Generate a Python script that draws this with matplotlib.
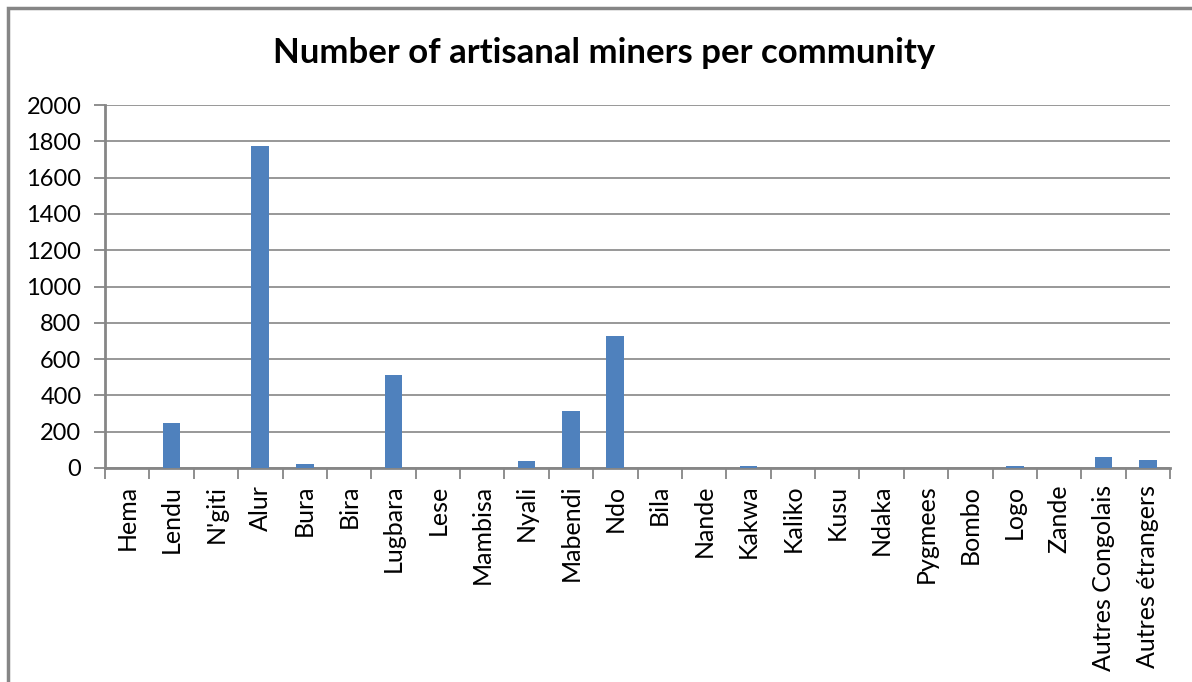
import matplotlib.pyplot as plt
import matplotlib.patches as patches
import numpy as np

communities = ["Hema", "Lendu", "N'giti", "Alur", "Bura", "Bira", "Lugbara",
               "Lese", "Mambisa", "Nyali", "Mabendi", "Ndo", "Bila", "Nande",
               "Kakwa", "Kaliko", "Kusu", "Ndaka", "Pygmees", "Bombo", "Logo",
               "Zande", "Autres Congolais", "Autres étrangers"]
miners = [0, 250, 0, 1775, 23, 0, 513, 0, 0, 39, 315, 728, 0, 0, 10, 0, 0, 0,
          0, 0, 10, 0, 61, 43]
y_ticks = [0, 200, 400, 600, 800, 1000, 1200, 1400, 1600, 1800, 2000]

plt.rcParams['font.family'] = ['Lato', 'DejaVu Sans']
grey = '#868686'

W, H = 1192, 682
fig = plt.figure(figsize=(W / 100, H / 100), dpi=100)

# outer chart frame (runs off the right and bottom edges)
fig.patches.append(patches.Rectangle((8 / W, -0.1), 1.2, 1 - 8 / H + 0.1,
                                     transform=fig.transFigure, fill=False,
                                     edgecolor=grey, linewidth=2.5))

ax = fig.add_axes([105 / W, 1 - 468 / H, (1170 - 105) / W, (468 - 105) / H])
x = np.arange(len(communities))
ax.bar(x, miners, width=0.4, color='#4f81bd', zorder=3)

ax.set_xlim(-0.5, len(communities) - 0.5)
ax.set_ylim(0, 2000)
ax.set_yticks(y_ticks)
ax.set_yticklabels([str(v) for v in y_ticks], fontsize=17)
ax.yaxis.grid(True, color=grey, linewidth=1.2, zorder=0)

# category labels between boundary ticks
ax.set_xticks(x)
ax.set_xticklabels(communities, rotation=90, fontsize=18)
ax.tick_params(axis='x', length=0, pad=12)
ax.set_xticks(np.arange(len(communities) + 1) - 0.5, minor=True)
ax.tick_params(axis='x', which='minor', length=8, width=1.3, color=grey)
ax.tick_params(axis='y', length=8, width=1.3, color=grey, pad=9)

for side in ['top', 'right']:
    ax.spines[side].set_visible(False)
for side in ['left', 'bottom']:
    ax.spines[side].set_color(grey)
    ax.spines[side].set_linewidth(2)

fig.text(604 / W, 1 - 53 / H, "Number of artisanal miners per community",
         ha='center', va='center', fontsize=25, fontweight='bold')

fig.savefig('out.png', dpi=100)
